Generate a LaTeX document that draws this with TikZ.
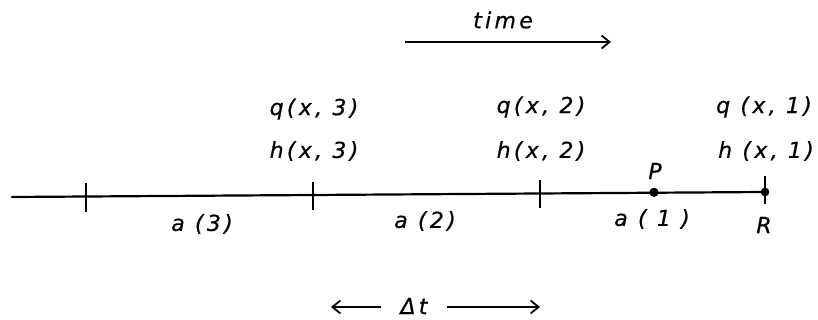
\documentclass[tikz,border=0pt]{standalone}
\usepackage{fontspec}
\setmainfont{DejaVu Sans}[LetterSpace=15,FakeBold=0.6]
\usetikzlibrary{arrows.meta}
\begin{document}
\begin{tikzpicture}[x=1pt,y=-1pt,
  lab/.style={font=\fontsize{22}{22}\selectfont\itshape, inner sep=0pt, anchor=center},
  axis/.style={line width=2.2pt, line cap=round},
  tick/.style={line width=2.4pt},
  arr/.style={line width=1.8pt, -{Straight Barb[length=8pt,width=13pt,line width=1.8pt]}}]
\useasboundingbox (0,0) rectangle (818,320);
% axis
\coordinate (L) at (12,197);
\coordinate (Rp) at (765,192);
\draw[axis] (L) -- (Rp);
% ticks
\draw[tick] (86,183) -- (86,212);
\draw[tick] (313,182) -- (313,210);
\draw[tick] (540,180) -- (540,208);
\draw[tick] (765,176) -- (765,204);
\fill (654,192.3) circle (4.6pt);
\fill (Rp) circle (4.4pt);
% labels
\node[lab] (a3) at (202,224) {a (3)};
\node[lab] (a2) at (425,221) {a (2)};
\node[lab] (a1) at (652,219) {a ( 1 )};
\node[lab] (R) at (764,225) {R};
\node[lab] (P) at (655,171) {P};
\node[lab] (q3) at (314,109) {q(x, 3)};
\node[lab] (h3) at (314,151) {h(x, 3)};
\node[lab] (q2) at (541,107) {q(x, 2)};
\node[lab] (h2) at (541,151) {h(x, 2)};
\node[lab] (q1) at (764,107) {q (x, 1)};
\node[lab] (h1) at (766,151) {h (x, 1)};
% time
\node[lab] (time) at (503,20) {time};
\coordinate (ta) at (405,42);
\coordinate (tb) at (611,42);
\draw[arr] (ta) -- (tb);
% delta t
\node[lab] (dt) at (414,306) {Δt};
\coordinate (da) at (381,307);
\coordinate (db) at (331,307);
\coordinate (dc) at (447,307);
\coordinate (dd) at (540,307);
\draw[arr] (da) -- (db);
\draw[arr] (dc) -- (dd);
\end{tikzpicture}
\end{document}
